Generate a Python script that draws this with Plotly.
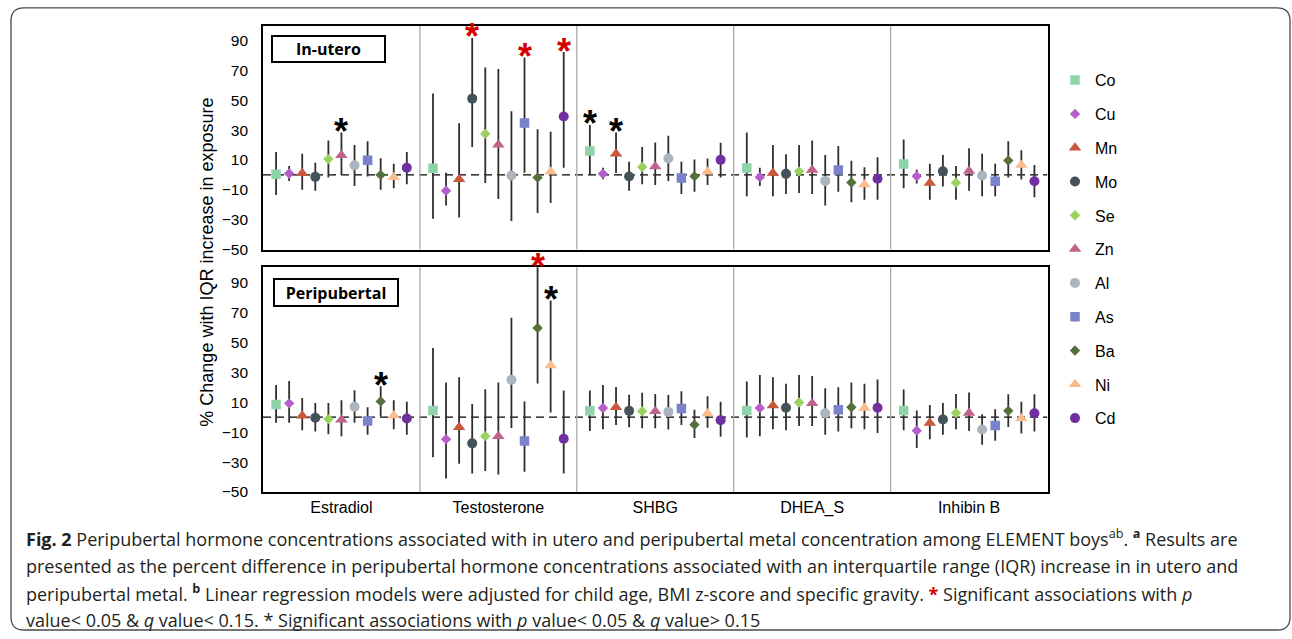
import plotly.graph_objects as go

W, H = 1292, 639

hormones = ["Estradiol", "Testosterone", "SHBG", "DHEA_S", "Inhibin B"]
metals = ["Co", "Cu", "Mn", "Mo", "Se", "Zn", "Al", "As", "Ba", "Ni", "Cd"]
metal_colors = ["#8fd4a9", "#b35ec9", "#c9583d", "#435358", "#9ad15f", "#c0638a",
                "#aab5bf", "#7a82cc", "#56703b", "#f9bd8e", "#7030a0"]
metal_symbols = ["square", "diamond", "triangle-up", "circle", "diamond", "triangle-up",
                 "circle", "square", "diamond", "triangle-up", "circle"]
symbol_sizes = {"square": 9.5, "diamond": 8, "triangle-up": 11, "circle": 10}

# % change per IQR increase; rows = hormones, columns = metals
utero_est = [
    [0.4, 0.9, 1.1, -1.3, 10.6, 13.2, 6.4, 9.9, 0.0, -1.5, 4.8],
    [4.4, -10.6, -2.9, 51.1, 27.5, 20.2, -0.4, 34.8, -1.8, 2.2, 39.2],
    [16.1, 0.7, 14.1, -1.1, 5.3, 5.7, 11.0, -2.0, -0.9, 2.2, 10.1],
    [4.6, -1.5, 1.3, 0.7, 2.4, 3.3, -4.0, 3.3, -5.1, -6.4, -2.6],
    [7.3, -0.9, -5.5, 2.4, -5.3, 2.6, -0.4, -4.2, 9.7, 6.6, -4.2],
]
utero_lo = [
    [-13.4, -4.0, -9.9, -10.6, -1.8, 0.0, -7.5, -1.0, -9.9, -9.0, -6.2],
    [-29.3, -20.5, -28.6, 18.7, -5.5, -16.1, -30.8, 1.5, -25.5, -18.9, 4.8],
    [0.0, -2.9, 1.3, -10.6, -6.2, -6.8, -4.0, -12.8, -11.2, -6.8, -1.8],
    [-14.3, -7.5, -14.3, -12.8, -12.1, -12.8, -20.5, -11.2, -18.3, -16.7, -16.7],
    [-9.0, -5.7, -16.7, -7.7, -16.7, -10.6, -14.3, -14.3, -1.8, -3.1, -15.0],
]
utero_hi = [
    [15.4, 5.9, 14.1, 8.1, 23.1, 28.4, 20.0, 22.5, 11.2, 7.5, 15.4],
    [54.6, 1.5, 34.6, 91.8, 72.0, 70.9, 42.7, 78.6, 30.6, 29.0, 82.3],
    [33.5, 4.8, 28.4, 8.8, 18.7, 21.8, 26.2, 8.8, 10.3, 11.0, 21.6],
    [28.4, 4.8, 20.0, 13.9, 20.0, 23.1, 13.4, 19.4, 9.5, 5.1, 11.9],
    [23.8, 3.5, 7.5, 13.4, 5.9, 17.8, 14.1, 7.5, 22.5, 16.5, 6.6],
]
peri_est = [
    [8.5, 9.2, 0.9, -0.4, -1.3, -1.8, 7.0, -2.6, 10.5, 1.1, -0.9],
    [4.4, -14.7, -6.8, -17.5, -12.7, -12.7, 24.9, -16.0, 59.5, 34.4, -14.4],
    [4.2, 6.1, 6.6, 4.2, 3.9, 3.9, 3.5, 5.7, -5.0, 2.4, -2.0],
    [4.4, 6.1, 7.7, 6.3, 9.8, 9.2, 2.6, 5.0, 6.6, 6.1, 6.3],
    [4.4, -9.0, -3.9, -1.5, 2.8, 2.8, -8.3, -5.5, 4.2, -0.9, 2.6],
]
peri_lo = [
    [-3.7, -3.7, -8.8, -9.6, -11.4, -12.7, -3.7, -11.8, 0.4, -8.1, -11.8],
    [-26.7, -40.9, -31.1, -37.6, -35.9, -38.3, -7.2, -36.5, 22.5, 3.1, -37.6],
    [-9.2, -8.1, -5.3, -6.8, -7.4, -7.4, -8.3, -5.3, -14.0, -7.0, -13.1],
    [-13.6, -12.7, -8.1, -8.8, -5.9, -5.9, -11.8, -9.6, -7.4, -8.1, -10.5],
    [-8.8, -20.6, -14.7, -11.8, -8.1, -9.2, -18.4, -15.8, -6.6, -10.9, -9.6],
]
peri_hi = [
    [21.4, 24.1, 12.7, 9.4, 9.4, 11.2, 17.9, 6.6, 20.6, 11.2, 10.3],
    [46.2, 23.2, 26.7, 8.8, 18.6, 23.2, 66.3, 10.5, 104.0, 77.9, 17.7],
    [17.7, 21.4, 20.1, 14.9, 16.2, 15.5, 14.7, 17.3, 5.0, 14.0, 10.3],
    [23.8, 28.2, 26.7, 22.3, 28.2, 27.4, 19.3, 19.9, 23.2, 22.3, 25.2],
    [18.4, 4.4, 8.1, 9.4, 15.5, 16.4, 2.0, 5.3, 15.3, 10.3, 15.3],
]

# significance flags: (hormone, metal, kind) ; "q" = p<0.05 & q<0.15 (red), "p" = p<0.05 only (black)
utero_sig = [("Estradiol", "Zn", "p"), ("Testosterone", "Mo", "q"), ("Testosterone", "As", "q"),
             ("Testosterone", "Cd", "q"), ("SHBG", "Co", "p"), ("SHBG", "Mn", "p")]
peri_sig = [("Estradiol", "Ba", "p"), ("Testosterone", "Ba", "q"), ("Testosterone", "Ni", "p")]
sig_colors = {"q": "#d40000", "p": "#000000"}

y_ticks = [-50, -30, -10, 10, 30, 50, 70, 90]
y_range = [-50, 100]

GROUP = len(metals) + 1
x_range = [0, GROUP * len(hormones)]


def px_x(p):
    return p / W


def px_y(p):
    return 1 - p / H


def xpos(h, m):
    return h * GROUP + 1 + m


fig = go.Figure()

panels = [("x", "y", utero_est, utero_lo, utero_hi, True),
          ("x2", "y2", peri_est, peri_lo, peri_hi, False)]

for m, metal in enumerate(metals):
    for xa, ya, est, lo, hi, show in panels:
        xs = [xpos(h, m) for h in range(len(hormones))]
        ys = [est[h][m] for h in range(len(hormones))]
        up = [hi[h][m] - est[h][m] for h in range(len(hormones))]
        dn = [est[h][m] - lo[h][m] for h in range(len(hormones))]
        sym = metal_symbols[m]
        fig.add_trace(go.Scatter(
            x=xs, y=ys, mode="markers", name=metal, legendgroup=metal, showlegend=show,
            xaxis=xa, yaxis=ya,
            marker=dict(symbol=sym, size=symbol_sizes[sym], color=metal_colors[m], line=dict(width=0)),
            error_y=dict(type="data", symmetric=False, array=up, arrayminus=dn,
                         width=0, thickness=1.8, color="#2e2e2e"),
        ))

# significance asterisks above the upper confidence limit
annotations = []
for ya, sigs, hi in [("y", utero_sig, utero_hi), ("y2", peri_sig, peri_hi)]:
    xa = "x" if ya == "y" else "x2"
    for hname, mname, kind in sigs:
        h = hormones.index(hname)
        m = metals.index(mname)
        annotations.append(dict(
            x=xpos(h, m), y=min(hi[h][m], y_range[1]), xref=xa, yref=ya,
            text="<b>*</b>", showarrow=False, yanchor="middle", yshift=1,
            font=dict(family="Liberation Sans", size=36, color=sig_colors[kind]),
        ))

# panel labels
for label, x0, y0, w, hgt in [("In-utero", 271, 35, 115, 28), ("Peripubertal", 273, 282, 126, 29)]:
    annotations.append(dict(
        x=px_x(x0), y=px_y(y0), xref="paper", yref="paper", xanchor="left", yanchor="top",
        text="<b>%s</b>" % label, showarrow=False, width=w - 4, height=hgt - 4,
        bordercolor="#000000", borderwidth=2, borderpad=0, align="center", valign="middle",
        font=dict(family="Open Sans", size=16, color="#000000"),
    ))

annotations.append(dict(
    x=px_x(207), y=px_y(266), xref="paper", yref="paper", xanchor="center", yanchor="middle",
    textangle=-90, showarrow=False,
    text="% Change with IQR increase in exposure",
    font=dict(family="Liberation Sans", size=18, color="#000000"),
))

caption_lines = [
    "<b>Fig. 2</b> Peripubertal hormone concentrations associated with in utero and peripubertal metal "
    "concentration among ELEMENT boys<sup>ab</sup>. <sup><b>a</b></sup> Results are",
    "presented as the percent difference in peripubertal hormone concentrations associated with an "
    "interquartile range (IQR) increase in in utero and",
    "peripubertal metal. <sup><b>b</b></sup> Linear regression models were adjusted for child age, BMI "
    "z-score and specific gravity. <span style=\"color:#d40000\"><b>*</b></span> Significant associations with <i>p</i>",
    "value&lt; 0.05 &amp; <i>q</i> value&lt; 0.15. * Significant associations with <i>p</i> value&lt; 0.05 "
    "&amp; <i>q</i> value&gt; 0.15",
]
caption_bottom = [560, 587.5, 616, 642]
for line, yy in zip(caption_lines, caption_bottom):
    annotations.append(dict(
        x=px_x(24), y=px_y(yy), xref="paper", yref="paper", xanchor="left", yanchor="bottom",
        text=line, showarrow=False, align="left",
        font=dict(family="Open Sans", size=18, color="#231f20"),
    ))

# frame, zero lines and hormone separators
shapes = []
r = 13
x0, y0, x1, y1 = px_x(11), px_y(8), px_x(1290), px_y(638)
rx, ry = r / W, r / H
shapes.append(dict(
    type="path", xref="paper", yref="paper",
    path=(f"M {x0 + rx} {y0} L {x1 - rx} {y0} Q {x1} {y0} {x1} {y0 - ry} "
          f"L {x1} {y1 + ry} Q {x1} {y1} {x1 - rx} {y1} L {x0 + rx} {y1} "
          f"Q {x0} {y1} {x0} {y1 + ry} L {x0} {y0 - ry} Q {x0} {y0} {x0 + rx} {y0} Z"),
    line=dict(color="#4a4a4a", width=1.3), layer="below",
))
for xa, ya in [("x", "y"), ("x2", "y2")]:
    shapes.append(dict(type="line", xref=xa, yref=ya, x0=x_range[0], x1=x_range[1], y0=0, y1=0,
                       line=dict(color="#000000", width=1.4, dash="8px,5px"), layer="below"))
    for h in range(1, len(hormones)):
        shapes.append(dict(type="line", xref=xa, yref=ya, x0=h * GROUP, x1=h * GROUP,
                           y0=y_range[0], y1=y_range[1],
                           line=dict(color="#a8a8a8", width=1.3), layer="below"))

axis_common = dict(range=x_range, showgrid=False, zeroline=False, showline=True, mirror=True,
                   linecolor="#000000", linewidth=1.6, domain=[px_x(263), px_x(1047.5)])
yaxis_common = dict(range=y_range, tickvals=y_ticks, showgrid=False, zeroline=False, showline=True,
                    mirror=True, linecolor="#000000", linewidth=1.6, ticks="",
                    ticklabelstandoff=10,
                    tickfont=dict(family="Liberation Sans", size=15.5, color="#000000"))

fig.update_layout(
    width=W, height=H, margin=dict(l=0, r=0, t=0, b=0),
    paper_bgcolor="#ffffff", plot_bgcolor="#ffffff",
    xaxis=dict(**axis_common, anchor="y", showticklabels=False),
    xaxis2=dict(**axis_common, anchor="y2", tickvals=[h * GROUP + GROUP / 2 for h in range(len(hormones))],
                ticktext=hormones, ticks="",
                tickfont=dict(family="Liberation Sans", size=16, color="#000000")),
    yaxis=dict(**yaxis_common, anchor="x", domain=[px_y(252.7), px_y(26)]),
    yaxis2=dict(**yaxis_common, anchor="x2", domain=[px_y(498.3), px_y(270.7)]),
    legend=dict(x=px_x(1055), xanchor="left", y=px_y(64), yanchor="top",
                font=dict(family="Liberation Sans", size=16, color="#000000"),
                tracegroupgap=10, bgcolor="rgba(0,0,0,0)", itemclick=False),
    annotations=annotations,
    shapes=shapes,
)

fig.write_html("out.html")
